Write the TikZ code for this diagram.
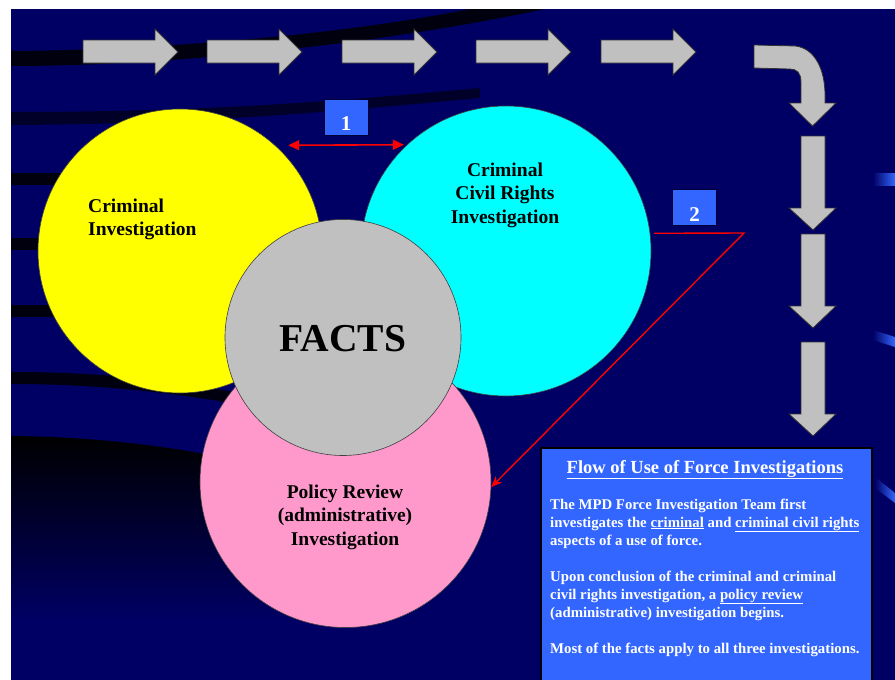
\documentclass[tikz,border=0pt]{standalone}
\usepackage{fontspec}
\setmainfont{Liberation Serif}
\usetikzlibrary{arrows.meta}
\definecolor{navy}{RGB}{0,0,100}
\definecolor{boxblue}{RGB}{51,102,255}
\definecolor{arrgray}{RGB}{192,192,192}
\definecolor{pinkc}{RGB}{255,153,204}
\definecolor{yelc}{RGB}{255,255,0}
\definecolor{cyac}{RGB}{0,255,255}
\begin{document}
\begin{tikzpicture}[x=1pt,y=-1pt,
  circ/.style={circle,draw=black!75,line width=0.6pt,inner sep=0pt},
  garrow/.style={fill=arrgray,draw=black!80,line width=0.8pt,line join=miter},
  band/.style={fill=black,opacity=0.85},
  numbox/.style={fill=boxblue,draw=black!50!navy,line width=0.6pt,minimum width=44pt,minimum height=36pt,inner sep=0pt},
  numtxt/.style={text=white,font=\bfseries\fontsize{21}{24}\selectfont,inner sep=0pt},
  lbl/.style={font=\bfseries\fontsize{19.5}{23.5}\selectfont,inner sep=0pt},
  bodytxt/.style={text=white,font=\bfseries\fontsize{14.8}{18}\selectfont,inner sep=0pt,align=left},
  redline/.style={draw=red,line width=1.6pt},
  streak/.style={left color=navy,right color=boxblue}]
\useasboundingbox (0,0) rectangle (895,680);
\fill[white] (0,0) rectangle (895,680);
\fill[navy] (11,9) rectangle (895,680);
% background swooshes
\fill[band] (11,51) .. controls (160,50) and (340,35) .. (470,9) -- (545,9) .. controls (390,42) and (180,66) .. (11,66) -- cycle;
\fill[black,opacity=.6] (11,112) .. controls (200,112) and (330,102) .. (480,88) -- (480,98) .. controls (330,112) and (200,124) .. (11,125) -- cycle;
\foreach \yy in {173,238,305} {\fill[band] (11,\yy) -- (160,\yy) -- (160,\yy+12) -- (11,\yy+12) -- cycle;}
\fill[band] (11,372) .. controls (100,372) and (180,380) .. (262,398) -- (258,408) .. controls (180,393) and (100,384) .. (11,384) -- cycle;
\begin{scope}
\clip (11,436) .. controls (120,437) and (230,452) .. (360,492) -- (360,680) -- (11,680) -- cycle;
\shade[top color=black,bottom color=navy] (11,436) rectangle (360,620);
\end{scope}
% streaks at right edge
\shade[streak] (873,173) -- (895,173) -- (895,185) -- (873,185) -- cycle;
\shade[streak] (873,330) -- (895,337) -- (895,347) -- (873,340) -- cycle;
\shade[streak] (875,477) -- (895,493) -- (895,503) -- (875,488) -- cycle;
% circles
\node[circ,fill=yelc,minimum size=284pt] (yel) at (180,251) {};
\node[circ,fill=cyac,minimum size=290pt] (cya) at (506,251) {};
\node[circ,fill=pinkc,minimum size=291pt] (pnk) at (345.5,482) {};
\node[circ,fill=arrgray,minimum size=236pt] (fac) at (343,337.5) {};
% labels (base anchor = baseline of last line)
\node[lbl,anchor=base west,align=left] (tyel) at (88,235.5) {Criminal\\Investigation};
\node[lbl,anchor=base,align=center] (tcya) at (505,223) {Criminal\\Civil Rights\\Investigation};
\node[lbl,anchor=base,align=center] (tpnk) at (345,545) {Policy Review\\(administrative)\\Investigation};
\node[font=\bfseries\fontsize{39.5}{44}\selectfont,anchor=base,inner sep=0pt] (tfac) at (343,351) {FACTS};
% red connectors
\draw[redline,{Triangle[length=11pt,width=10pt]}-{Triangle[length=11pt,width=10pt]}] ([xshift=13pt]yel.48) -- ([xshift=-3pt]cya.133);
\coordinate (bend) at (744,233);
\draw[redline,line width=1.4pt,-{Stealth[length=11pt,width=9pt]}] ([xshift=4pt]cya.7) -- (bend) -- (pnk.-2);
% number boxes
\node[numbox] (b1) at (346,117) {};
\node[numtxt,anchor=base] (n1) at (346,130) {1};
\node[numbox] (b2) at (694.5,207) {};
\node[numtxt,anchor=base] (n2) at (694.5,221) {2};
% gray arrows
\foreach \L in {83,207,342,476,601} {
  \draw[garrow] (\L,40) -- (\L+72,40) -- (\L+72,29) -- (\L+95,52) -- (\L+72,75) -- (\L+72,63) -- (\L,63) -- cycle;
}
\draw[garrow] (754,45) -- (795,46) .. controls (815,48) and (825,70) .. (825,95) -- (825,103) -- (836,103) -- (812.5,126) -- (789,103) -- (801,103) -- (801,82) .. controls (801,73) and (797,69) .. (790,69) -- (754,68) -- cycle;
\foreach \T in {136,234,342} {
  \draw[garrow] (801,\T) -- (825,\T) -- (825,\T+72) -- (836,\T+72) -- (813,\T+94) -- (789,\T+72) -- (801,\T+72) -- cycle;
}
% text box
\node[draw=black,line width=1.6pt,fill=boxblue,minimum width=331pt,minimum height=245pt,anchor=north west,inner sep=0pt] (tb) at (540,447) {};
\node[text=white,font=\bfseries\fontsize{18.5}{22}\selectfont,anchor=base,inner sep=0pt] (ttl) at (705,473) {\underline{Flow of Use of Force Investigations}};
\node[bodytxt,anchor=base west] (body) at (550,653) {The MPD Force Investigation Team first\\
investigates the \underline{criminal} and \underline{criminal civil rights}\\
aspects of a use of force.\\[18pt]
Upon conclusion of the criminal and criminal\\
civil rights investigation, a \underline{policy review}\\
(administrative) investigation begins.\\[18pt]
Most of the facts apply to all three investigations.};
\end{tikzpicture}
\end{document}
